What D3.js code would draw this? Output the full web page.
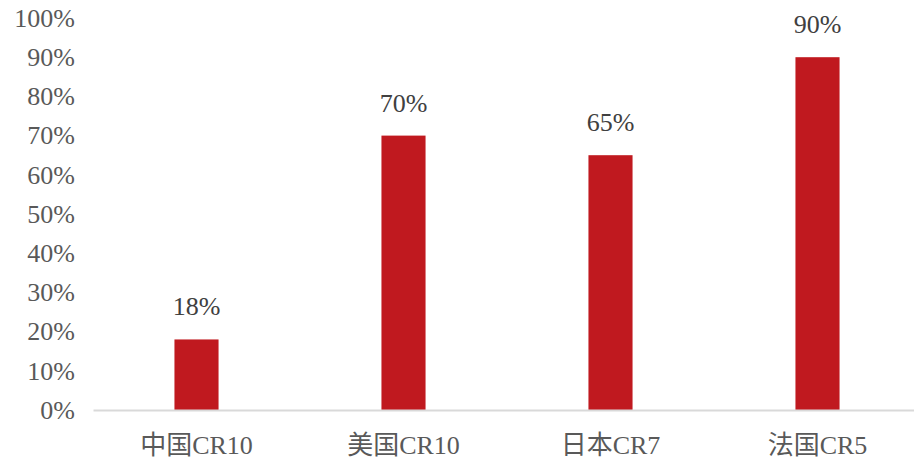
<!DOCTYPE html>
<meta charset="utf-8">
<head>
    <title>CR</title>
    <style>
        body { margin: 0; background: #fff; }
        text { font-family: "Liberation Serif", "Times New Roman", "Noto Sans CJK SC", serif; }
    </style>
</head>

<script src="https://d3js.org/d3.v7.min.js"></script>

<div id="dataVis"></div>

<script>

    // data
    var categories = ["中国CR10", "美国CR10", "日本CR7", "法国CR5"];
    var values = [0.18, 0.70, 0.65, 0.90];
    var yTicks = [0, 0.1, 0.2, 0.3, 0.4, 0.5, 0.6, 0.7, 0.8, 0.9, 1.0];

    var margin = { top: 18, right: 0, bottom: 51, left: 93 },
        width = 828,
        height = 461 - margin.top - margin.bottom;

    var svg = d3.select("#dataVis")
        .append("svg")
        .attr("width", 914)
        .attr("height", 461)
        .append("g")
        .attr("transform", "translate(" + margin.left + "," + margin.top + ")");

    var x = d3.scaleBand()
        .domain(categories)
        .range([0, width])
        .paddingInner(0.787)
        .paddingOuter(0.3935);

    var y = d3.scaleLinear()
        .domain([0, 1])
        .range([height, 0]);

    // y axis labels only
    var yAxis = svg.append("g")
        .call(d3.axisLeft(y).tickValues(yTicks).tickFormat(d3.format(".0%")).tickSize(0).tickPadding(18));
    yAxis.select(".domain").remove();
    yAxis.selectAll("text")
        .style("font-size", "26px")
        .attr("fill", "#595959")
        .attr("font-family", null);

    // bars
    svg.append("g")
        .selectAll("rect")
        .data(values)
        .enter()
        .append("rect")
        .attr("x", function (d, i) { return x(categories[i]); })
        .attr("y", function (d) { return y(d); })
        .attr("width", x.bandwidth())
        .attr("height", function (d) { return height - y(d); })
        .attr("fill", "#C0191F");

    // x axis
    var xAxis = svg.append("g")
        .attr("transform", "translate(0," + height + ")")
        .call(d3.axisBottom(x).tickSize(0).tickPadding(26));
    xAxis.select(".domain")
        .attr("stroke", "#d9d9d9")
        .attr("stroke-width", 2);
    xAxis.selectAll("text")
        .style("font-size", "26px")
        .attr("fill", "#595959")
        .attr("font-family", null);

    // value labels
    svg.append("g")
        .selectAll("text")
        .data(values)
        .enter()
        .append("text")
        .attr("x", function (d, i) { return x(categories[i]) + x.bandwidth() / 2; })
        .attr("y", function (d) { return y(d) - 24; })
        .attr("text-anchor", "middle")
        .style("font-size", "26px")
        .attr("fill", "#404040")
        .text(function (d) { return Math.round(d * 100) + "%"; });

</script>
